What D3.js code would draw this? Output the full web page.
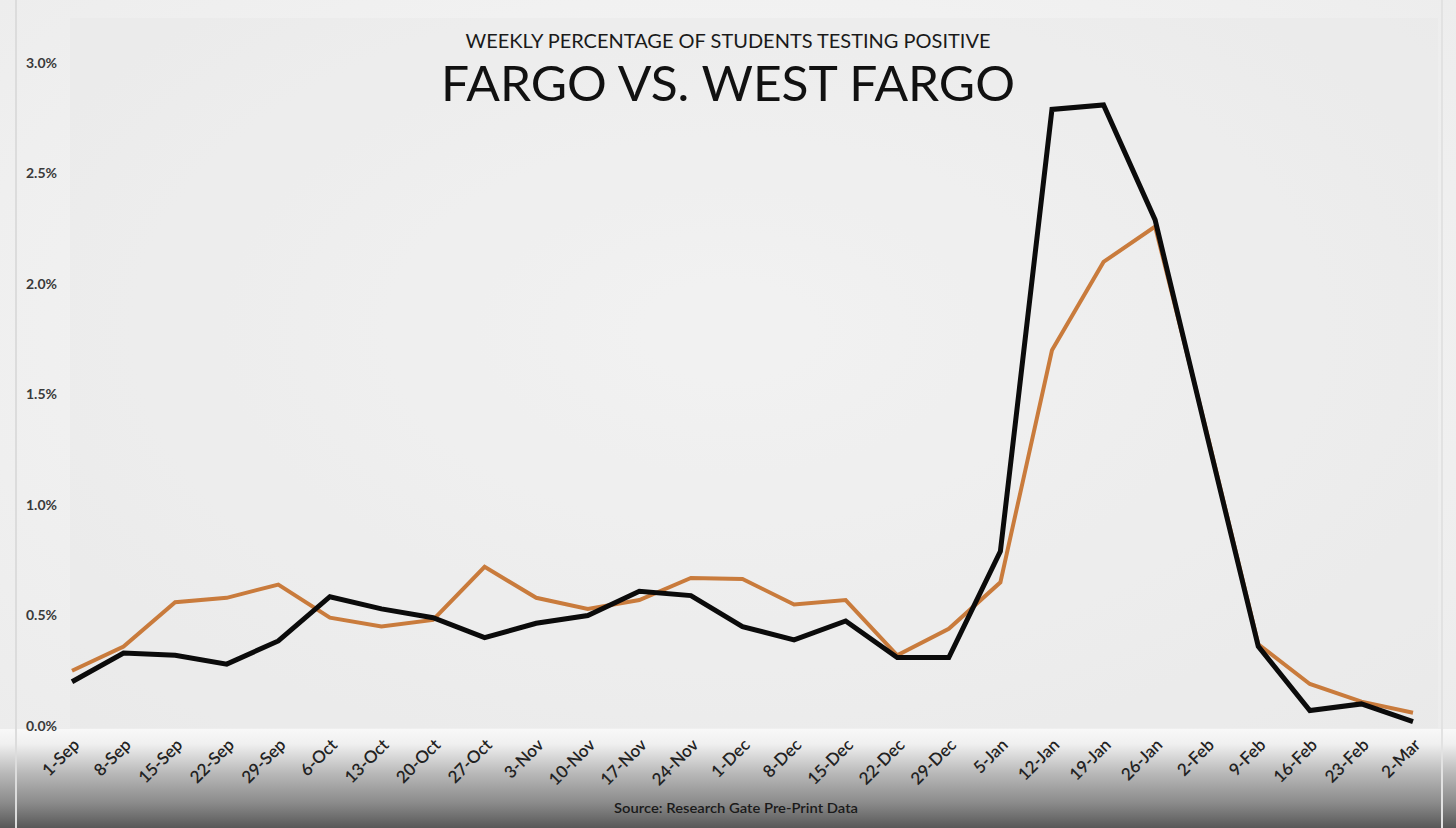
<!DOCTYPE html>
<html><head><meta charset="utf-8">
<script src="https://cdn.jsdelivr.net/npm/d3@7"></script>
<style>html,body{margin:0;padding:0;background:#efefef;}svg{display:block;}</style>
</head><body>
<svg id="chart" width="1456" height="828"></svg>
<script>
const categories = ["1-Sep","8-Sep","15-Sep","22-Sep","29-Sep","6-Oct","13-Oct","20-Oct","27-Oct","3-Nov","10-Nov","17-Nov","24-Nov","1-Dec","8-Dec","15-Dec","22-Dec","29-Dec","5-Jan","12-Jan","19-Jan","26-Jan","2-Feb","9-Feb","16-Feb","23-Feb","2-Mar"];
const fargo = [0.25,0.36,0.56,0.58,0.64,0.49,0.45,0.48,0.72,0.58,0.53,0.57,0.67,0.665,0.55,0.57,0.32,0.44,0.65,1.70,2.10,2.26,1.33,0.37,0.19,0.11,0.06];
const westFargo = [0.20,0.33,0.32,0.28,0.385,0.585,0.53,0.49,0.40,0.465,0.50,0.61,0.59,0.45,0.39,0.475,0.31,0.31,0.79,2.79,2.81,2.29,1.32,0.36,0.07,0.10,0.02];
const yTicks = [0,0.5,1.0,1.5,2.0,2.5,3.0];
const titleSmall = "WEEKLY PERCENTAGE OF STUDENTS TESTING POSITIVE";
const titleBig = "FARGO VS. WEST FARGO";
const sourceText = "Source: Research Gate Pre-Print Data";

const svg = d3.select("#chart");
const W = 1456, H = 828;
const FONT = "Lato, 'Noto Sans', sans-serif";
const defs = svg.append("defs");
const rg = defs.append("radialGradient").attr("id","bgRad").attr("cx","50%").attr("cy","40%").attr("r","70%");
rg.append("stop").attr("offset","0%").attr("stop-color","#f8f8f8");
rg.append("stop").attr("offset","100%").attr("stop-color","#ececec");
const lg = defs.append("linearGradient").attr("id","bottomGrad").attr("x1",0).attr("y1",0).attr("x2",0).attr("y2",1);
lg.append("stop").attr("offset","0%").attr("stop-color","#f8f8f8");
lg.append("stop").attr("offset","15%").attr("stop-color","#f0f0f0");
lg.append("stop").attr("offset","45%").attr("stop-color","#b8b8b8");
lg.append("stop").attr("offset","75%").attr("stop-color","#8a8a8a");
lg.append("stop").attr("offset","100%").attr("stop-color","#585858");

svg.append("rect").attr("width",W).attr("height",H).attr("fill","url(#bgRad)");

const x = d3.scalePoint().domain(categories).range([72,1413]);
const y = d3.scaleLinear().domain([0,3]).range([726,63]);

// plot area
svg.append("rect").attr("x",70).attr("y",18).attr("width",1368).attr("height",710)
  .attr("fill","#e4e4e4").attr("opacity",0.35);
// bottom strip and gradient
svg.append("rect").attr("x",0).attr("y",729).attr("width",W).attr("height",H-729).attr("fill","url(#bottomGrad)");
// faint vertical frame lines
svg.append("line").attr("x1",16).attr("x2",16).attr("y1",0).attr("y2",H).attr("stroke","#dcdcdc").attr("stroke-width",2);
svg.append("line").attr("x1",1442).attr("x2",1442).attr("y1",0).attr("y2",H).attr("stroke","#e2e2e2").attr("stroke-width",2);

// y axis
const yAxis = d3.axisLeft(y).tickValues(yTicks).tickFormat(d => d.toFixed(1) + "%").tickSize(0).tickPadding(0);
const yg = svg.append("g").attr("transform","translate(57,0)").call(yAxis);
yg.select(".domain").remove();
yg.selectAll("text").attr("font-family",FONT).attr("font-size",14).attr("font-weight",700).attr("fill","#3a3a3a").attr("dy","0.32em");

// x axis
const xAxis = d3.axisBottom(x).tickSize(0).tickPadding(0);
const xg = svg.append("g").attr("transform","translate(0,728)").call(xAxis);
xg.select(".domain").remove();
xg.selectAll("text")
  .attr("font-family",FONT).attr("font-size",17).attr("font-weight",600).attr("fill","#222")
  .attr("text-anchor","end").attr("dy",null).attr("y",0)
  .attr("transform","translate(8,18) rotate(-45)");

// lines
const line = d3.line().x((d,i) => x(categories[i])).y(d => y(d));
svg.append("path").datum(fargo).attr("d",line).attr("fill","none").attr("stroke","#c97b3c").attr("stroke-width",4).attr("stroke-linejoin","miter");
svg.append("path").datum(westFargo).attr("d",line).attr("fill","none").attr("stroke","#0b0b0b").attr("stroke-width",5).attr("stroke-linejoin","miter");

// titles
svg.append("text").attr("x",728).attr("y",48).attr("text-anchor","middle")
  .attr("font-family",FONT).attr("font-size",19).attr("fill","#1a1a1a")
  .attr("textLength",525).attr("lengthAdjust","spacingAndGlyphs").text(titleSmall);
svg.append("text").attr("x",728).attr("y",101).attr("text-anchor","middle")
  .attr("font-family",FONT).attr("font-size",49).attr("fill","#111")
  .attr("textLength",574).attr("lengthAdjust","spacingAndGlyphs").text(titleBig);
svg.append("text").attr("x",736).attr("y",813).attr("text-anchor","middle")
  .attr("font-family",FONT).attr("font-size",14).attr("font-weight",600).attr("fill","#1a1a1a")
  .attr("textLength",244).attr("lengthAdjust","spacingAndGlyphs").text(sourceText);
</script>
</body></html>
